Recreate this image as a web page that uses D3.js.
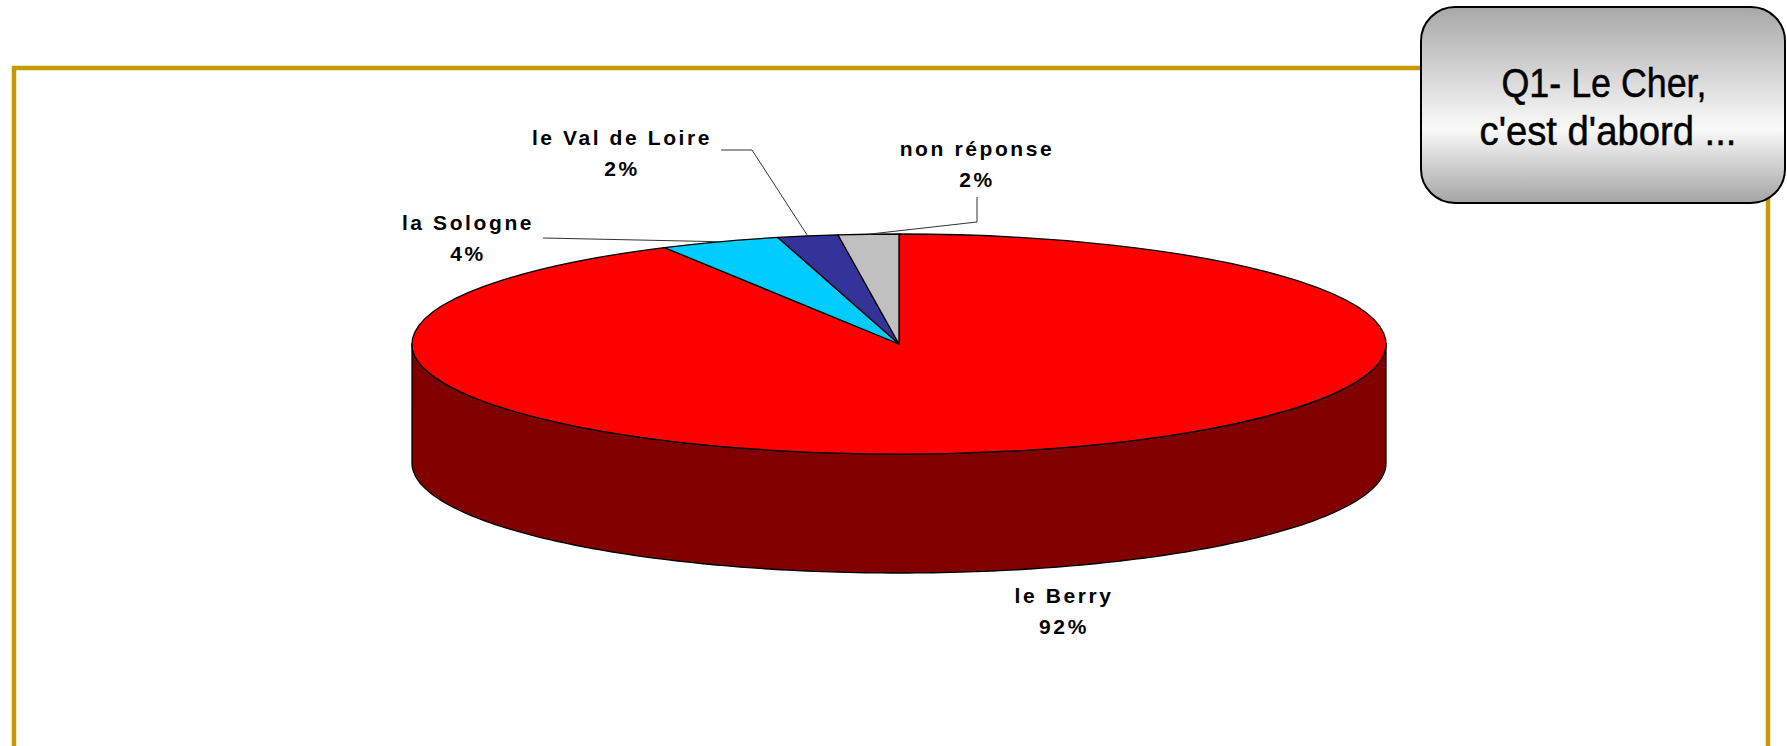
<!DOCTYPE html>
<html>
<head>
<meta charset="utf-8">
<script src="https://cdn.jsdelivr.net/npm/d3@7"></script>
<style>
  body { margin: 0; background: #fff; }
  svg { display: block; }
  .lbl { font-family: "Liberation Sans", Arial, sans-serif; font-weight: bold; font-size: 21px; letter-spacing: 2.6px; fill: #000; }
  .title { font-family: "Liberation Sans", Arial, sans-serif; font-size: 40px; fill: #000; stroke: #000; stroke-width: 0.5px; }
</style>
</head>
<body>
<div id="chart"></div>
<script>
// data
var categories = ['le Berry', 'la Sologne', 'le Val de Loire', 'non réponse'];
var values = [92, 4, 2, 2];
var titleLines = ['Q1- Le Cher,', "c'est d'abord ..."];

var topColors = ['#ff0000', '#00ccff', '#333399', '#c0c0c0'];
var sideColors = ['#800000', '#006680', '#1a1a4d', '#606060'];

var width = 1787, height = 746;
var cx = 899, cy = 344, rx = 487, ry = 110, depth = 119;

// label positions and leader line elbows
var labelLayout = {
    'le Berry':        { x: 1064, y: 603, line: null },
    'la Sologne':      { x: 468,  y: 230, line: [[543, 238]] },
    'le Val de Loire': { x: 622,  y: 145, line: [[752, 150], [721, 150]] },
    'non réponse':     { x: 977,  y: 156, line: [[977, 222], [977, 197]] }
};
var titleLayout = [{ x: 1604, y: 97, len: 205 }, { x: 1608, y: 145, len: 257 }];

var svg = d3.select('#chart').append('svg')
    .attr('width', width)
    .attr('height', height);

// frame
var gold = '#c69a04';
svg.append('path')
    .attr('d', 'M14,' + height + ' V68 H1500 M1768,180 V' + height)
    .attr('fill', 'none')
    .attr('stroke', gold)
    .attr('stroke-width', 4.5);

var colorTop = d3.scaleOrdinal(categories, topColors);
var colorSide = d3.scaleOrdinal(categories, sideColors);

var pie = d3.pie().sort(null).value(function (d) { return d.value; });
var arcs = pie(categories.map(function (c, i) { return { name: c, value: values[i] }; }));

function pt(a, dy) {
    return [cx + rx * Math.sin(a), cy - ry * Math.cos(a) + (dy || 0)];
}

// sides (only the front half is visible)
var line = d3.line();
arcs.forEach(function (d) {
    var a0 = Math.max(d.startAngle, Math.PI / 2);
    var a1 = Math.min(d.endAngle, Math.PI * 3 / 2);
    if (a0 >= a1) return;
    var angs = d3.range(0, 181).map(function (k) { return a0 + (a1 - a0) * k / 180; });
    var pts = angs.map(function (a) { return pt(a); })
        .concat(angs.slice().reverse().map(function (a) { return pt(a, depth); }));
    svg.append('path')
        .attr('d', line(pts) + 'Z')
        .attr('fill', colorSide(d.data.name))
        .attr('stroke', '#000')
        .attr('stroke-width', 1.3)
        .attr('stroke-linejoin', 'round');
});

// top
var arc = d3.arc().innerRadius(0).outerRadius(rx);
var topG = svg.append('g')
    .attr('transform', 'translate(' + cx + ',' + cy + ') scale(1,' + (ry / rx) + ')');
topG.selectAll('path')
    .data(arcs)
    .join('path')
    .attr('d', arc)
    .attr('fill', function (d) { return colorTop(d.data.name); })
    .attr('stroke', '#000')
    .attr('stroke-width', 1.3)
    .attr('stroke-linejoin', 'round')
    .attr('vector-effect', 'non-scaling-stroke');

// labels and leader lines
var fmt = d3.format('.0%');
var total = d3.sum(values);
arcs.forEach(function (d) {
    var lay = labelLayout[d.data.name];
    if (lay.line) {
        var mid = pt((d.startAngle + d.endAngle) / 2);
        svg.append('path')
            .attr('d', line([mid].concat(lay.line)))
            .attr('fill', 'none')
            .attr('stroke', '#333')
            .attr('stroke-width', 1);
    }
    var t = svg.append('text')
        .attr('class', 'lbl')
        .attr('text-anchor', 'middle');
    t.append('tspan').attr('x', lay.x).attr('y', lay.y).text(d.data.name);
    t.append('tspan').attr('x', lay.x).attr('y', lay.y + 31).text(fmt(d.data.value / total));
});

// title box
var defs = svg.append('defs');
var grad = defs.append('linearGradient')
    .attr('id', 'boxGrad')
    .attr('x1', 0).attr('y1', 0).attr('x2', 0).attr('y2', 1);
grad.append('stop').attr('offset', '0%').attr('stop-color', '#a8a8a8');
grad.append('stop').attr('offset', '62%').attr('stop-color', '#fafafa');
grad.append('stop').attr('offset', '100%').attr('stop-color', '#a4a4a4');

svg.append('rect')
    .attr('x', 1421).attr('y', 7)
    .attr('width', 364).attr('height', 196)
    .attr('rx', 34).attr('ry', 34)
    .attr('fill', 'url(#boxGrad)')
    .attr('stroke', '#000')
    .attr('stroke-width', 2);

// narrow title: squeezed to the measured line widths
svg.selectAll('text.title')
    .data(titleLines)
    .join('text')
    .attr('class', 'title')
    .attr('text-anchor', 'middle')
    .attr('x', function (d, i) { return titleLayout[i].x; })
    .attr('y', function (d, i) { return titleLayout[i].y; })
    .attr('textLength', function (d, i) { return titleLayout[i].len; })
    .attr('lengthAdjust', 'spacingAndGlyphs')
    .text(function (d) { return d; });
</script>
</body>
</html>
